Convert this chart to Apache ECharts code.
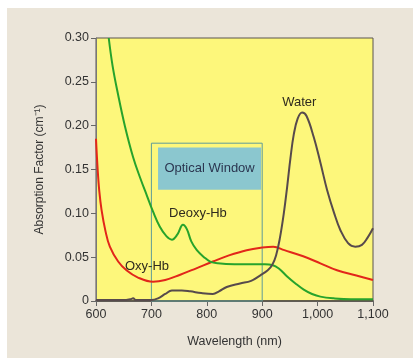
<!DOCTYPE html>
<html>
<head>
<meta charset="utf-8">
<script src="https://cdn.jsdelivr.net/npm/echarts@6/dist/echarts.min.js"></script>
<style>
  html, body { margin: 0; padding: 0; background: #ffffff; }
  #chart { width: 413px; height: 358px; }
</style>
</head>
<body>
<div id="chart"></div>
<script>
// 波长 (nm) 与吸收系数 (cm^-1)
const deoxyNm  = [623, 630, 640, 652, 667, 680, 692, 703, 715, 727, 737, 747, 757, 764, 772, 782, 795, 806, 820, 850, 880, 905, 918, 930, 945, 960, 975, 990, 1005, 1030, 1060, 1100];
const deoxyVal = [0.300, 0.268, 0.235, 0.200, 0.164, 0.140, 0.120, 0.102, 0.085, 0.074, 0.070, 0.076, 0.087, 0.082, 0.068, 0.058, 0.050, 0.045, 0.043, 0.042, 0.042, 0.042, 0.041, 0.037, 0.028, 0.020, 0.013, 0.008, 0.005, 0.003, 0.002, 0.002];

const oxyNm  = [600, 603, 606, 610, 617, 625, 640, 655, 675, 703, 725, 752, 780, 811, 840, 872, 900, 920, 940, 974, 1005, 1035, 1070, 1100];
const oxyVal = [0.185, 0.150, 0.125, 0.104, 0.080, 0.062, 0.045, 0.035, 0.027, 0.022, 0.024, 0.030, 0.037, 0.045, 0.052, 0.058, 0.061, 0.062, 0.058, 0.051, 0.043, 0.035, 0.029, 0.024];

const waterNm  = [600, 650, 662, 667, 672, 700, 712, 725, 737, 755, 770, 790, 811, 822, 836, 860, 880, 896, 910, 918, 925, 932, 939, 945, 951, 957, 964, 972, 980, 993, 1005, 1017, 1030, 1041, 1055, 1068, 1080, 1090, 1100];
const waterVal = [0.001, 0.001, 0.002, 0.003, 0.001, 0.001, 0.003, 0.008, 0.012, 0.012, 0.011, 0.009, 0.008, 0.011, 0.016, 0.020, 0.023, 0.029, 0.035, 0.041, 0.052, 0.072, 0.100, 0.130, 0.163, 0.190, 0.208, 0.215, 0.211, 0.187, 0.158, 0.127, 0.100, 0.081, 0.066, 0.062, 0.064, 0.072, 0.083];

// 光学窗口
const windowBox  = [700, 900, 0, 0.18];
const windowFill = [712, 898, 0.127, 0.175];

// 曲线标注
const curveLabels = [
  {name: 'Water',    nm: 967, val: 0.227},
  {name: 'Deoxy-Hb', nm: 784, val: 0.100},
  {name: 'Oxy-Hb',   nm: 692, val: 0.039},
];

const pairs = (xs, ys) => xs.map((x, i) => [x, ys[i]]);
const font = "'Liberation Sans', Arial, Helvetica, sans-serif";

let chart = echarts.init(document.getElementById('chart'));
let option = {
  backgroundColor: 'transparent',
  animation: false,
  graphic: [
    {type: 'rect', z: -10, shape: {x: 7, y: 8, width: 406, height: 350}, style: {fill: '#ebe5d9'}}
  ],
  grid: {
    left: 96, right: 40, top: 38, bottom: 57,
    show: true, backgroundColor: '#fdf77b', borderColor: '#5a5550', borderWidth: 1
  },
  xAxis: {
    type: 'value', min: 600, max: 1100, interval: 100,
    axisLine: {show: true, lineStyle: {color: '#4a4540', width: 1.5}},
    axisTick: {show: true, length: 5, lineStyle: {color: '#666'}},
    axisLabel: {color: '#333', fontSize: 12.5, fontFamily: font, margin: 7,
      formatter: v => v.toLocaleString('en-US')},
    splitLine: {show: false},
    name: 'Wavelength (nm)', nameLocation: 'middle', nameGap: 34,
    nameTextStyle: {color: '#333', fontSize: 12.5, fontFamily: font}
  },
  yAxis: {
    type: 'value', min: 0, max: 0.30, interval: 0.05,
    axisLine: {show: true, lineStyle: {color: '#777'}},
    axisTick: {show: true, length: 5, lineStyle: {color: '#666'}},
    axisLabel: {color: '#333', fontSize: 12.5, fontFamily: font, margin: 7,
      formatter: v => v === 0 ? '0' : v.toFixed(2)},
    splitLine: {show: false},
    name: 'Absorption Factor (cm⁻¹)', nameLocation: 'middle', nameGap: 50,
    nameTextStyle: {color: '#333', fontSize: 12, fontFamily: font}
  },
  series: [
    {
      type: 'line', name: 'window', data: [], silent: true,
      markArea: {
        silent: true,
        data: [
          [{coord: [windowBox[0], windowBox[2]], itemStyle: {color: 'rgba(0,0,0,0)', borderColor: '#5f9c98', borderWidth: 1}},
           {coord: [windowBox[1], windowBox[3]]}],
          [{coord: [windowFill[0], windowFill[2]], itemStyle: {color: '#8bc7cf', borderWidth: 0},
            label: {show: true, position: 'inside', formatter: 'Optical Window', color: '#2b3650', fontSize: 13, fontFamily: font}},
           {coord: [windowFill[1], windowFill[3]]}]
        ]
      }
    },
    {type: 'line', name: 'Oxy-Hb', data: pairs(oxyNm, oxyVal), showSymbol: false, smooth: 0.4,
      lineStyle: {color: '#e2261a', width: 2}, z: 3},
    {type: 'line', name: 'Deoxy-Hb', data: pairs(deoxyNm, deoxyVal), showSymbol: false, smooth: 0.4,
      lineStyle: {color: '#27a32c', width: 2}, z: 4},
    {type: 'line', name: 'Water', data: pairs(waterNm, waterVal), showSymbol: false, smooth: 0.4,
      lineStyle: {color: '#574a4c', width: 2}, z: 5,
      markPoint: {
        symbol: 'circle', symbolSize: 0, silent: true,
        data: curveLabels.map(l => ({
          coord: [l.nm, l.val],
          label: {show: true, position: 'inside', formatter: l.name, color: '#2e2a1e', fontSize: 13, fontFamily: font}
        }))
      }
    }
  ]
};
chart.setOption(option);
</script>
</body>
</html>
